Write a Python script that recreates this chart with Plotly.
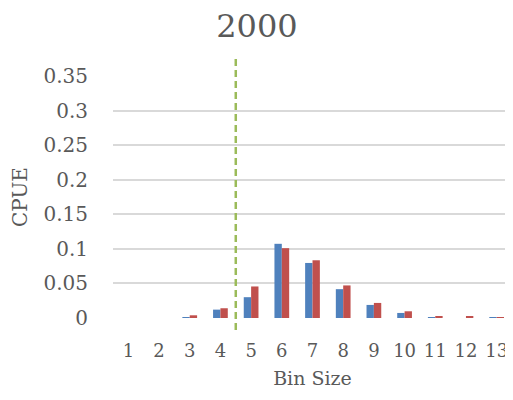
import plotly.graph_objects as go

bins = [str(i) for i in range(1, 14)]
series_a = [0.0, 0.0, 0.0005, 0.0121, 0.0301, 0.1073, 0.0796, 0.0417, 0.0189, 0.0073, 0.0008, 0.0, 0.0003]
series_b = [0.0, 0.0, 0.0039, 0.0141, 0.0456, 0.1010, 0.0835, 0.0471, 0.0218, 0.0097, 0.0022, 0.0022, 0.0004]
y_ticks = [0, 0.05, 0.1, 0.15, 0.2, 0.25, 0.3, 0.35]
y_tick_text = ["0", "0.05", "0.1", "0.15", "0.2", "0.25", "0.3", "0.35"]
cutoff = 4.5

font_family = "DejaVu Serif"
grey = "#595959"

fig = go.Figure()
fig.add_trace(go.Bar(x=bins, y=series_a, marker=dict(color="#4F81BD", line=dict(width=0))))
fig.add_trace(go.Bar(x=bins, y=series_b, marker=dict(color="#C0504D", line=dict(width=0))))

fig.add_shape(type="line", xref="x", yref="paper", x0=cutoff - 1, x1=cutoff - 1,
              y0=-0.05, y1=1.074, line=dict(color="#9BBB59", width=2.5, dash="7px,4px"))

# page body has an 8px margin, so the figure is sized to fit the 513x400 window
fig.update_layout(
    width=505, height=392,
    margin=dict(l=105, r=1, t=68, b=82, autoexpand=False),
    paper_bgcolor="white", plot_bgcolor="white",
    showlegend=False,
    barmode="group", bargap=0.52, bargroupgap=0,
    font=dict(family=font_family, color=grey, size=20),
    title=dict(text="2000", x=0.493, xanchor="center", y=0.955, yanchor="middle",
               xref="container", yref="container", automargin=False,
               font=dict(size=32, color=grey, family=font_family)),
    xaxis=dict(type="category", showgrid=False, zeroline=False, showline=False,
               automargin=False,
               ticks="outside", ticklen=16, tickcolor="rgba(0,0,0,0)",
               tickfont=dict(size=18),
               title=dict(text="Bin Size", font=dict(size=19), standoff=12)),
    yaxis=dict(range=[0, 0.35], tickvals=y_ticks, ticktext=y_tick_text,
               automargin=False,
               showgrid=True, gridcolor="#D9D9D9", gridwidth=1.5,
               zeroline=False, showline=False,
               ticks="outside", ticklen=20, tickcolor="rgba(0,0,0,0)",
               tickfont=dict(size=20),
               title=dict(text="CPUE", font=dict(size=20), standoff=15)),
)

fig.write_html("out.html")
